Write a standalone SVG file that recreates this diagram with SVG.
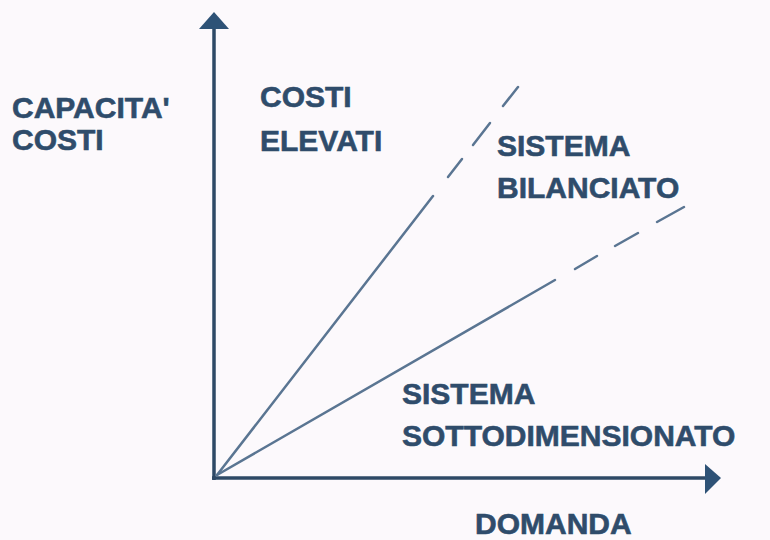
<svg xmlns="http://www.w3.org/2000/svg" width="770" height="540" viewBox="0 0 770 540">
<style>
.lbl{font-family:"Liberation Sans",Arial,sans-serif;font-weight:bold;font-size:30px;fill:#2f4c6b;stroke:#2f4c6b;stroke-width:0.6}
.axis{stroke:#2e4966;stroke-width:3.5;fill:none}
.diag{stroke:#5a7592;stroke-width:2.5;fill:none;stroke-linecap:round}
.head{fill:#2e5276}
</style>
<rect width="770" height="540" fill="#fcf9fc"/>
<g id="connectors">
<line class="axis" x1="214" y1="480" x2="214" y2="27"/>
<line class="axis" x1="212" y1="478" x2="707" y2="478"/>
<polygon class="head" points="214,12 199,29 229,29"/>
<polygon class="head" points="721,478 705,464 705,494"/>
<line class="diag" x1="217" y1="475" x2="433" y2="196"/>
<line class="diag" x1="448" y1="177" x2="462" y2="159"/>
<line class="diag" x1="473" y1="145" x2="490" y2="123"/>
<line class="diag" x1="503" y1="106" x2="518" y2="87"/>
<line class="diag" x1="217" y1="475" x2="555" y2="280"/>
<line class="diag" x1="575" y1="269" x2="597" y2="256"/>
<line class="diag" x1="615" y1="246" x2="638" y2="233"/>
<line class="diag" x1="657" y1="222" x2="684" y2="207"/>
</g>
<g id="y-label"><text class="lbl" x="12" y="118">CAPACITA'</text><text class="lbl" x="12" y="150">COSTI</text></g>
<g id="costi-elevati"><text class="lbl" x="260" y="107">COSTI</text><text class="lbl" x="260" y="151">ELEVATI</text></g>
<g id="sistema-bilanciato"><text class="lbl" x="497" y="156">SISTEMA</text><text class="lbl" x="497" y="198">BILANCIATO</text></g>
<g id="sistema-sottodimensionato"><text class="lbl" x="402" y="404">SISTEMA</text><text class="lbl" x="402" y="446">SOTTODIMENSIONATO</text></g>
<g id="x-label"><text class="lbl" x="475" y="534">DOMANDA</text></g>
</svg>
